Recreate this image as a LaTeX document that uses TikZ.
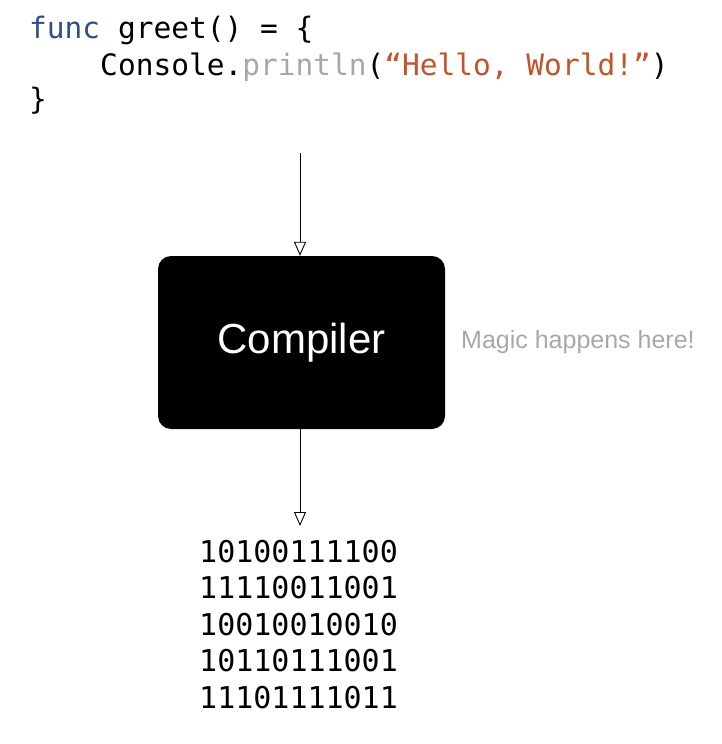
\documentclass[tikz,border=0pt]{standalone}
\usepackage{fontspec}
\setmainfont{Liberation Sans}
\newfontfamily\codefont{DejaVu Sans Mono}
\usetikzlibrary{arrows.meta}
\definecolor{kw}{HTML}{2F4F8A}
\definecolor{fn}{HTML}{A8A8A8}
\definecolor{str}{HTML}{C4532B}
\tikzset{
 code/.style={anchor=west,inner sep=0pt,font=\codefont\fontsize{29.5}{29.5}\selectfont},
 flow/.style={draw=black,line width=0.9pt,-{Triangle[open,length=14pt,width=12pt]}},
 box/.style={fill=black,rounded corners=13pt,minimum width=287pt,minimum height=173pt,text=white,font=\fontsize{42}{42}\selectfont},
}
\begin{document}
\begin{tikzpicture}[x=1pt,y=-1pt]
\useasboundingbox (0,0) rectangle (722,744);
\node[code] (l1) at (29,30) {\textcolor{kw}{func} greet() = \{};
\node[code] (l2) at (29,67) {\phantom{xxxx}Console.\textcolor{fn}{println}(\textcolor{str}{“Hello, World!”})};
\node[code] (l3) at (29,101) {\}};
\coordinate (top) at (300,153);
\node[box] (comp) at (301.5,342.5) {Compiler};
\node[anchor=west,inner sep=0pt,text=fn,font=\fontsize{25}{25}\selectfont] (magic) at (461,342) {Magic happens here!};
\draw[flow] (top) -- (comp.north -| top);
\node[align=left,inner sep=0pt,anchor=north west,font=\codefont\fontsize{30}{36.5}\selectfont] (bin) at (199,540) {10100111100\\11110011001\\10010010010\\10110111001\\11101111011};
\draw[flow] (comp.south -| top) -- (300,526);
\end{tikzpicture}
\end{document}
